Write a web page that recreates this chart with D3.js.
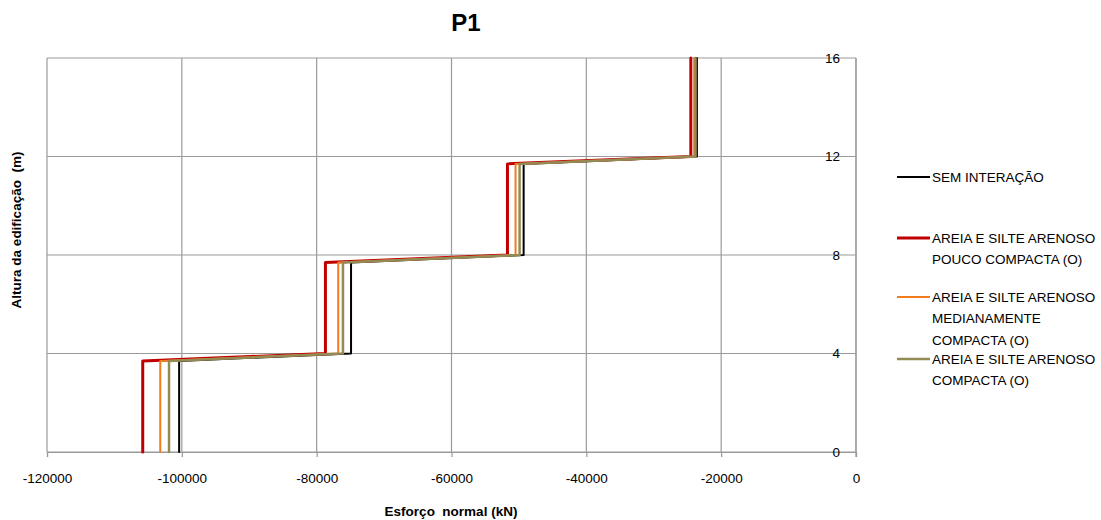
<!DOCTYPE html>
<html>
<head>
<meta charset="utf-8">
<script src="https://cdn.jsdelivr.net/npm/d3@7"></script>
<style>
  html, body { margin: 0; padding: 0; background: #fff; }
  svg { display: block; font-family: "Liberation Sans", Arial, sans-serif; }
</style>
</head>
<body>
<svg id="chart" width="1101" height="520"></svg>
<script>
// Heights (m) of the sampled points along the column
const heights = [0, 3.7, 4, 7.7, 8, 11.7, 12, 16];

// Normal force (kN) per series at each height
const semInteracao   = [-100400, -100400, -74900, -74900, -49300, -49300, -23600, -23600];
const poucoCompacta  = [-105800, -105800, -78700, -78700, -51700, -51700, -24500, -24500];
const medianamente   = [-103200, -103200, -76800, -76800, -50500, -50500, -24000, -24000];
const compacta       = [-101900, -101900, -76100, -76100, -49900, -49900, -23800, -23800];

const seriesNames = [
  ["SEM INTERAÇÃO"],
  ["AREIA E SILTE ARENOSO", "POUCO COMPACTA (O)"],
  ["AREIA E SILTE ARENOSO", "MEDIANAMENTE", "COMPACTA (O)"],
  ["AREIA E SILTE ARENOSO", "COMPACTA (O)"]
];
const seriesValues = [semInteracao, poucoCompacta, medianamente, compacta];
const seriesColors = ["#000000", "#C00000", "#F07C1E", "#948A54"];
const seriesWidths = [2, 3, 2, 2.5];

const xTicks = [-120000, -100000, -80000, -60000, -40000, -20000, 0];
const yTicks = [0, 4, 8, 12, 16];

const svg = d3.select("#chart");
const plotLeft = 47, plotRight = 856, plotTop = 58, plotBottom = 452;

const x = d3.scaleLinear().domain([-120000, 0]).range([plotLeft, plotRight]);
const y = d3.scaleLinear().domain([0, 16]).range([plotBottom, plotTop]);

const gridColor = "#9a9a9a";

// Gridlines
svg.append("g").selectAll("line").data(xTicks).join("line")
  .attr("x1", d => x(d)).attr("x2", d => x(d))
  .attr("y1", plotTop).attr("y2", plotBottom)
  .attr("stroke", gridColor).attr("stroke-width", 1.2);
svg.append("g").selectAll("line").data(yTicks).join("line")
  .attr("x1", plotLeft).attr("x2", plotRight)
  .attr("y1", d => y(d)).attr("y2", d => y(d))
  .attr("stroke", gridColor).attr("stroke-width", 1.2);

// X axis at the bottom, ticks pointing down (plain hyphen for negatives)
const xAxis = svg.append("g")
  .attr("transform", `translate(0,${plotBottom})`)
  .call(d3.axisBottom(x).tickValues(xTicks).tickSize(5).tickFormat(d => String(d)));
xAxis.select(".domain").attr("stroke", gridColor).attr("stroke-width", 1.2);
xAxis.selectAll(".tick line").attr("stroke", gridColor).attr("stroke-width", 1.2);
xAxis.selectAll(".tick text")
  .attr("y", 27).attr("dy", "0.32em")
  .attr("font-size", 13.5).attr("font-family", "Liberation Sans, Arial, sans-serif")
  .attr("fill", "#000");

// Y axis at x = 0, labels inside the plot
const yAxis = svg.append("g")
  .attr("transform", `translate(${plotRight},0)`)
  .call(d3.axisLeft(y).tickValues(yTicks).tickSize(0).tickPadding(16));
yAxis.select(".domain").attr("stroke", gridColor).attr("stroke-width", 1.2)
  .attr("d", `M0,${plotTop}V${plotBottom + 5}`);
yAxis.selectAll(".tick text")
  .attr("font-size", 13.5).attr("font-family", "Liberation Sans, Arial, sans-serif")
  .attr("fill", "#000");

// Series lines
const line = d3.line().x(d => x(d[0])).y(d => y(d[1]));
seriesValues.forEach((vals, i) => {
  const pts = vals.map((v, k) => [v, heights[k]]);
  svg.append("path")
    .datum(pts)
    .attr("d", line)
    .attr("fill", "none")
    .attr("stroke", seriesColors[i])
    .attr("stroke-width", seriesWidths[i])
    .attr("stroke-linejoin", "round")
    .attr("stroke-linecap", "round");
});

// Title
svg.append("text")
  .attr("x", 466).attr("y", 31)
  .attr("text-anchor", "middle")
  .attr("font-size", 24).attr("font-weight", "bold")
  .text("P1");

// Axis titles
svg.append("text")
  .attr("x", 451).attr("y", 516)
  .attr("text-anchor", "middle")
  .attr("font-size", 13.5).attr("font-weight", "bold")
  .attr("xml:space", "preserve")
  .text("Esforço  normal (kN)");

svg.append("text")
  .attr("transform", "translate(21,230) rotate(-90)")
  .attr("text-anchor", "middle")
  .attr("font-size", 13.5).attr("font-weight", "bold")
  .attr("xml:space", "preserve")
  .text("Altura da edificação  (m)");

// Legend
const legendY = [177, 238, 297, 359];
const lineGap = 21.5;
seriesNames.forEach((lines, i) => {
  const g = svg.append("g");
  g.append("line")
    .attr("x1", 897).attr("x2", 930)
    .attr("y1", legendY[i]).attr("y2", legendY[i])
    .attr("stroke", seriesColors[i])
    .attr("stroke-width", seriesWidths[i]);
  lines.forEach((t, j) => {
    g.append("text")
      .attr("x", 932).attr("y", legendY[i] + j * lineGap)
      .attr("dy", "0.36em")
      .attr("font-size", 13.5)
      .attr("fill", "#000")
      .text(t);
  });
});
</script>
</body>
</html>
